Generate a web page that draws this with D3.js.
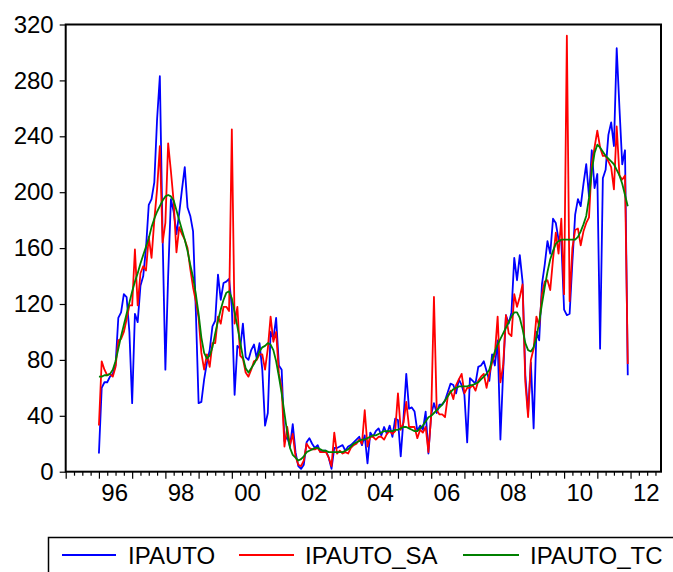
<!DOCTYPE html>
<html>
<head>
<meta charset="utf-8">
<script src="https://cdn.jsdelivr.net/npm/d3@7"></script>
<style>
  html, body { margin: 0; padding: 0; background: #fff; }
  svg text { font-family: "Liberation Sans", Arial, sans-serif; }
</style>
</head>
<body>
<svg id="chart" width="673" height="572"></svg>
<script>
// Monthly series, 1996M01 - 2011M12
const startYear = 1996;

const ipauto = [
  13, 60, 64, 64, 68, 70, 76, 110, 114, 127, 125, 100,
  49, 113, 107, 133, 140, 160, 191, 195, 207, 252, 283, 168,
  73, 140, 195, 186, 170, 185, 202, 218, 189, 183, 172, 115,
  49, 50, 66, 78, 87, 104, 108, 141, 123, 135, 136, 138,
  118, 55, 90, 88, 106, 82, 80, 87, 91, 81, 92, 73,
  33, 42, 100, 95, 110, 76, 73, 22, 25, 18, 34, 14,
  4, 2, 5, 21, 24, 20, 17, 19, 14, 15, 15, 10,
  2, 17, 17, 18, 19, 15, 18, 19, 21, 23, 25, 19,
  26, 6, 28, 25, 29, 31, 26, 32, 27, 33, 25, 38,
  37, 11, 38, 70, 45, 46, 43, 29, 33, 30, 43, 13,
  41, 49, 42, 48, 48, 51, 57, 63, 62, 56, 66, 62,
  55, 21, 67, 65, 63, 75, 76, 79, 72, 65, 84, 76,
  94, 23, 72, 112, 106, 114, 153, 137, 155, 136, 69, 42,
  78, 31, 100, 94, 134, 148, 165, 156, 181, 178, 166, 165,
  116, 112, 113, 150, 184, 195, 190, 206, 220, 197, 230, 203,
  213, 88, 210, 216, 241, 250, 233, 303, 260, 220, 230, 69
];

const ipautoSA = [
  33, 79, 73, 69, 70, 68, 75, 94, 95, 100, 109, 119,
  119, 159, 119, 142, 147, 144, 168, 153, 180, 202, 233, 164,
  178, 235, 215, 193, 157, 175, 170, 166, 160, 145, 132, 122,
  110, 85, 73, 84, 75, 92, 92, 111, 106, 118, 118, 115,
  245, 106, 118, 83, 81, 71, 68, 73, 79, 80, 84, 84,
  73, 88, 111, 93, 100, 70, 60, 18, 32, 19, 27, 11,
  5, 4, 8, 20, 17, 16, 16, 17, 14, 14, 14, 10,
  4, 28, 13, 15, 13, 14, 13, 17, 19, 20, 23, 20,
  44, 18, 25, 25, 23, 25, 25, 23, 27, 29, 27, 29,
  56, 30, 35, 50, 32, 32, 32, 24, 30, 28, 32, 14,
  40, 125, 44, 41, 41, 39, 54, 58, 52, 62, 66, 70,
  56, 60, 60, 62, 58, 65, 68, 70, 60, 70, 78, 84,
  111, 64, 76, 112, 99, 97, 127, 118, 125, 134, 64, 39,
  80, 88, 111, 104, 127, 136, 137, 130, 152, 171, 156, 181,
  127, 312, 122, 160, 173, 174, 162, 172, 178, 182, 220, 232,
  244, 232, 226, 226, 222, 218, 202, 247, 212, 209, 212, 77
];

const ipautoTC = [
  68, 68, 69, 69, 70, 73, 79, 88, 97, 105, 113, 121,
  129, 136, 142, 149, 155, 161, 167, 175, 181, 186, 190, 194,
  197, 198, 197, 194, 187, 180, 173, 166, 158, 148, 139, 127,
  113, 96, 85, 81, 83, 89, 99, 108, 116, 123, 128, 129,
  124, 114, 104, 93, 82, 74, 71, 74, 77, 81, 86, 89,
  90, 92, 91, 87, 79, 68, 56, 42, 28, 17, 12, 10,
  8, 9, 11, 14, 15, 16, 17, 17, 16, 15, 15, 14,
  14, 14, 14, 14, 14, 15, 16, 18, 20, 21, 22, 23,
  23, 24, 25, 26, 26, 27, 28, 29, 29, 29, 29, 30,
  30, 31, 32, 32, 31, 30, 29, 29, 31, 33, 36, 39,
  40, 42, 44, 46, 48, 51, 54, 57, 59, 60, 61, 61,
  61, 61, 62, 62, 63, 64, 66, 68, 70, 73, 80, 86,
  91, 95, 99, 103, 107, 111, 114, 114, 110, 102, 92, 87,
  86, 89, 96, 107, 120, 132, 143, 152, 158, 163, 165, 166,
  166, 166, 166, 166, 166, 168, 172, 177, 183, 196, 215, 228,
  234, 232, 229, 226, 224, 222, 220, 216, 212, 206, 198, 190
];

const yTicks = [0, 40, 80, 120, 160, 200, 240, 280, 320];
const yearLabels = ["96", "98", "00", "02", "04", "06", "08", "10", "12"];

const seriesNames = ["IPAUTO", "IPAUTO_SA", "IPAUTO_TC"];
const seriesColors = ["#0000ff", "#ff0000", "#008000"];
const seriesData = [ipauto, ipautoSA, ipautoTC];

// Layout
const plot = { left: 65.7, right: 661, top: 24.5, bottom: 471.7 };

const svg = d3.select("#chart");

// x: month index counted from January of startYear; axis spans 1995M01 .. end of 2012
const x = d3.scaleLinear().domain([-12, 203]).range([plot.left, plot.right]);
const y = d3.scaleLinear().domain([0, 320]).range([plot.bottom, plot.top]);

// Series lines
const line = d3.line()
  .x((d, i) => x(i))
  .y(d => y(d));

const linesG = svg.append("g");
seriesData.forEach((data, k) => {
  linesG.append("path")
    .datum(data)
    .attr("fill", "none")
    .attr("stroke", seriesColors[k])
    .attr("stroke-width", 1.8)
    .attr("stroke-linejoin", "round")
    .attr("d", line);
});

// Frame
svg.append("rect")
  .attr("x", plot.left)
  .attr("y", plot.top)
  .attr("width", plot.right - plot.left)
  .attr("height", plot.bottom - plot.top)
  .attr("fill", "none")
  .attr("stroke", "#000")
  .attr("stroke-width", 2);

// Y axis
const yAxis = d3.axisLeft(y).tickValues(yTicks).tickSize(6).tickPadding(6);
const yG = svg.append("g")
  .attr("transform", `translate(${plot.left},0)`)
  .call(yAxis);
yG.select(".domain").remove();
yG.selectAll("line").attr("stroke", "#000").attr("stroke-width", 1.2);
yG.selectAll("text")
  .attr("font-size", 24)
  .attr("fill", "#000")
  .style("font-family", "'Liberation Sans', Arial, sans-serif");

// X axis: quarterly minor ticks, yearly major ticks, labels every other year mid-year
const quarterTicks = d3.range(-12, 204, 3).filter(v => v % 12 !== 0);
const yearTicks = d3.range(-12, 204, 12);
const labelPos = yearLabels.map((_, k) => k * 24 + 5.5);

const xMinor = d3.axisBottom(x).tickValues(quarterTicks).tickSize(4).tickFormat("");
const xMajor = d3.axisBottom(x).tickValues(yearTicks).tickSize(7).tickFormat("");
const xLabels = d3.axisBottom(x).tickValues(labelPos).tickSize(0).tickPadding(12)
  .tickFormat((d, k) => yearLabels[k]);

[xMinor, xMajor, xLabels].forEach(ax => {
  const g = svg.append("g")
    .attr("transform", `translate(0,${plot.bottom})`)
    .call(ax);
  g.select(".domain").remove();
  g.selectAll("line").attr("stroke", "#000").attr("stroke-width", 1.2);
  g.selectAll("text")
    .attr("font-size", 24)
    .attr("fill", "#000")
    .style("font-family", "'Liberation Sans', Arial, sans-serif");
});

// Legend
const legend = svg.append("g");
legend.append("rect")
  .attr("x", 48.5).attr("y", 537.5)
  .attr("width", 700).attr("height", 80)
  .attr("fill", "#fff")
  .attr("stroke", "#000")
  .attr("stroke-width", 1.5);

const legendItems = [
  { x1: 62, x2: 116, tx: 128 },
  { x1: 239, x2: 294, tx: 305 },
  { x1: 463, x2: 519, tx: 530 }
];
legendItems.forEach((it, k) => {
  legend.append("line")
    .attr("x1", it.x1).attr("x2", it.x2)
    .attr("y1", 555).attr("y2", 555)
    .attr("stroke", seriesColors[k])
    .attr("stroke-width", 2);
  legend.append("text")
    .attr("x", it.tx).attr("y", 564)
    .attr("font-size", 24)
    .attr("fill", "#000")
    .text(seriesNames[k]);
});
</script>
</body>
</html>
